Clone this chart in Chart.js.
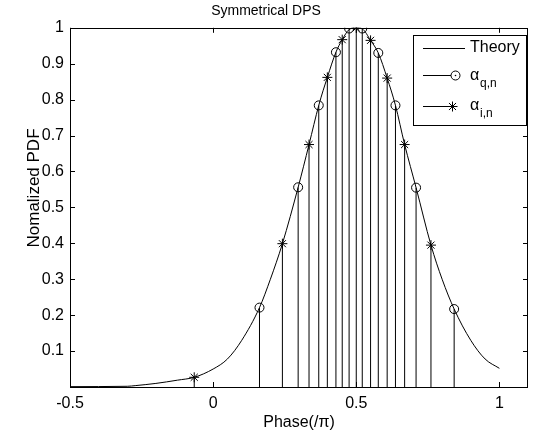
<!DOCTYPE html>
<html>
<head>
<meta charset="utf-8">
<script src="https://cdn.jsdelivr.net/npm/chart.js@4.4.1/dist/chart.umd.min.js"></script>
<style>
  html, body { margin: 0; padding: 0; background: #fff; }
  #wrap { width: 534px; height: 436px; }
</style>
</head>
<body>
<div id="wrap"><canvas id="dps-chart"></canvas></div>
<script>
// data
const theoryX = [-0.5, -0.3, -0.27, -0.2, -0.125, -0.066, 0, 0.05, 0.1, 0.162, 0.2, 0.242, 0.297, 0.335, 0.369, 0.399, 0.429, 0.451, 0.475, 0.5, 0.521, 0.55, 0.577, 0.608, 0.637, 0.669, 0.709, 0.761, 0.8, 0.842, 0.9, 0.95, 1.0]
const theoryY = [0.001, 0.002, 0.004, 0.01, 0.019, 0.027, 0.05, 0.078, 0.13, 0.221, 0.3, 0.399, 0.556, 0.675, 0.784, 0.862, 0.932, 0.967, 0.995, 1.0, 0.997, 0.965, 0.93, 0.86, 0.784, 0.675, 0.555, 0.395, 0.3, 0.217, 0.13, 0.078, 0.052]

const alphaQX = [0.162, 0.297, 0.369, 0.429, 0.475, 0.521, 0.577, 0.637, 0.709, 0.842]
const alphaQY = [0.221, 0.556, 0.784, 0.932, 0.998, 0.998, 0.93, 0.784, 0.555, 0.217]

const alphaIX = [-0.066, 0.242, 0.335, 0.399, 0.451, 0.5, 0.55, 0.608, 0.669, 0.761]
const alphaIY = [0.027, 0.399, 0.675, 0.862, 0.967, 1.0, 0.965, 0.86, 0.675, 0.395]

const xTicks = [-0.5, 0, 0.5, 1]
const yTicks = [0.1, 0.2, 0.3, 0.4, 0.5, 0.6, 0.7, 0.8, 0.9, 1]

// helpers
function toPoints(xs, ys) {
  return xs.map((x, i) => ({ x: x, y: ys[i] }))
}

function stemPoints(xs, ys) {
  const pts = []
  xs.forEach((x, i) => {
    pts.push({ x: x, y: 0 })
    pts.push({ x: x, y: ys[i] })
    pts.push({ x: x, y: null })
  })
  return pts
}

const FONT = "'Liberation Sans', Arial, sans-serif"

// frame, inward ticks, y label and the legend, matlab style
const matlabFrame = {
  id: 'matlabFrame',
  afterDraw(chart) {
    const ctx = chart.ctx
    const a = chart.chartArea
    const xs = chart.scales.x
    const ys = chart.scales.y
    const tl = 5
    ctx.save()
    ctx.strokeStyle = '#000'
    ctx.lineWidth = 1
    ctx.beginPath()
    xTicks.forEach((v) => {
      const px = Math.round(xs.getPixelForValue(v)) + 0.5
      ctx.moveTo(px, a.bottom); ctx.lineTo(px, a.bottom - tl)
      ctx.moveTo(px, a.top); ctx.lineTo(px, a.top + tl)
    })
    yTicks.forEach((v) => {
      const py = Math.round(ys.getPixelForValue(v)) + 0.5
      ctx.moveTo(a.left, py); ctx.lineTo(a.left + tl, py)
      ctx.moveTo(a.right, py); ctx.lineTo(a.right - tl, py)
    })
    ctx.stroke()
    ctx.strokeRect(Math.round(a.left) + 0.5, Math.round(a.top) + 0.5, Math.round(a.right - a.left) - 1, Math.round(a.bottom - a.top))

    // y label
    ctx.save()
    ctx.translate(34, 188)
    ctx.rotate(-Math.PI / 2)
    ctx.fillStyle = '#000'
    ctx.font = '17px ' + FONT
    ctx.textAlign = 'center'
    ctx.textBaseline = 'middle'
    ctx.fillText('Nomalized PDF', 0, 0)
    ctx.restore()

    // legend
    const lx = 413, ly = 35, lw = 113, lh = 90
    ctx.fillStyle = '#fff'
    ctx.fillRect(lx, ly, lw, lh)
    ctx.strokeRect(lx + 0.5, ly + 0.5, lw, lh)

    ctx.beginPath()
    ctx.moveTo(423, 48.5); ctx.lineTo(465, 48.5)
    ctx.moveTo(423, 75.5); ctx.lineTo(451, 75.5)
    ctx.moveTo(423, 106.5); ctx.lineTo(452, 106.5)
    ctx.stroke()
    ctx.beginPath()
    ctx.arc(455.5, 75.5, 4.5, 0, Math.PI * 2)
    ctx.stroke()
    ctx.beginPath()
    ctx.arc(455.5, 75.5, 0.8, 0, Math.PI * 2)
    ctx.fillStyle = '#000'
    ctx.fill()
    // star
    const sx = 452.5, sy = 106.5, r = 5
    ctx.beginPath()
    ctx.moveTo(sx - r, sy); ctx.lineTo(sx + r, sy)
    ctx.moveTo(sx, sy - r); ctx.lineTo(sx, sy + r)
    const d = r * 0.7071
    ctx.moveTo(sx - d, sy - d); ctx.lineTo(sx + d, sy + d)
    ctx.moveTo(sx - d, sy + d); ctx.lineTo(sx + d, sy - d)
    ctx.stroke()

    ctx.fillStyle = '#000'
    ctx.textBaseline = 'middle'
    ctx.textAlign = 'left'
    ctx.font = '16px ' + FONT
    ctx.fillText('Theory', 470, 48)
    ctx.fillText('\u03b1', 470, 76)
    ctx.fillText('\u03b1', 470, 106)
    ctx.font = '12px ' + FONT
    ctx.fillText('q,n', 480, 84)
    ctx.fillText('i,n', 480, 114)
    ctx.restore()
  },
}

const dpsCtx = document.querySelector('#dps-chart')
const dpsChart = new Chart(dpsCtx, {
  type: 'line',
  data: {
    datasets: [
      {
        label: 'stems',
        data: stemPoints(alphaQX.concat(alphaIX), alphaQY.concat(alphaIY)),
        borderColor: '#000',
        borderWidth: 1,
        pointRadius: 0,
        spanGaps: false,
        tension: 0,
      },
      {
        label: 'Theory',
        data: toPoints(theoryX, theoryY),
        borderColor: '#000',
        borderWidth: 1,
        pointRadius: 0,
        cubicInterpolationMode: 'monotone',
      },
      {
        label: 'alpha q,n',
        data: toPoints(alphaQX, alphaQY),
        showLine: false,
        pointStyle: 'circle',
        pointRadius: 4.5,
        pointBorderWidth: 1,
        pointBorderColor: '#000',
        pointBackgroundColor: 'rgba(0,0,0,0)',
      },
      {
        label: 'alpha i,n',
        data: toPoints(alphaIX, alphaIY),
        showLine: false,
        pointStyle: 'star',
        pointRadius: 5,
        pointBorderWidth: 1,
        pointBorderColor: '#000',
        pointBackgroundColor: '#000',
      },
    ],
  },
  options: {
    responsive: true,
    maintainAspectRatio: false,
    animation: false,
    layout: {
      padding: { left: 0, right: 2, top: 0, bottom: 0 },
    },
    scales: {
      x: {
        type: 'linear',
        min: -0.5,
        max: 1.1,
        afterBuildTicks: (scale) => {
          scale.ticks = xTicks.map((v) => ({ value: v }))
        },
        afterFit: (scale) => {
          scale.height = 49
        },
        grid: { display: false, drawTicks: false },
        border: { display: false },
        ticks: {
          color: '#000',
          padding: 7,
          font: { family: FONT, size: 16 },
          maxRotation: 0,
          callback: (v) => String(v),
        },
        title: {
          display: true,
          text: 'Phase(/\u03c0)',
          color: '#000',
          font: { family: FONT, size: 16 },
          padding: { top: 0, bottom: 4 },
        },
      },
      y: {
        type: 'linear',
        min: 0,
        max: 1,
        afterBuildTicks: (scale) => {
          scale.ticks = yTicks.map((v) => ({ value: v }))
        },
        afterFit: (scale) => {
          scale.width = 70
        },
        grid: { display: false, drawTicks: false },
        border: { display: false },
        ticks: {
          color: '#000',
          padding: 6,
          font: { family: FONT, size: 16 },
          callback: (v) => String(v),
        },
      },
    },
    plugins: {
      legend: { display: false },
      tooltip: { enabled: false },
      title: {
        display: true,
        text: 'Symmetrical DPS',
        color: '#000',
        font: { family: FONT, size: 14, weight: 'normal' },
        padding: { top: 3, bottom: 8 },
      },
    },
  },
  plugins: [matlabFrame],
})
</script>
</body>
</html>
